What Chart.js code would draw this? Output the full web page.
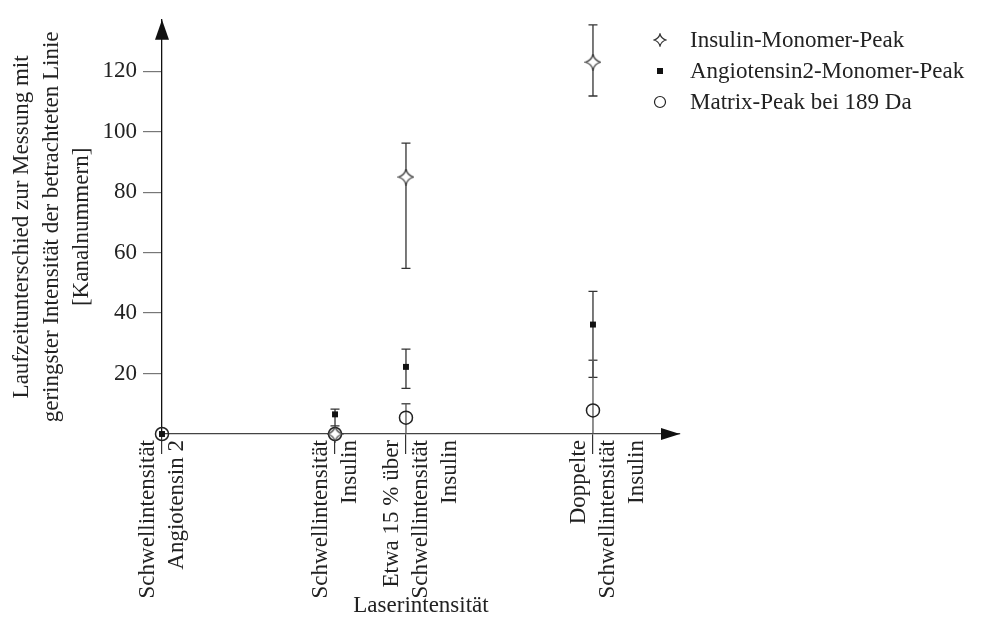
<!DOCTYPE html>
<html>
<head>
<meta charset="utf-8">
<script src="https://cdn.jsdelivr.net/npm/chart.js@4/dist/chart.umd.min.js"></script>
<style>
  html, body { margin: 0; background: #fff; }
</style>
</head>
<body>
<canvas id="myChart" width="994" height="619"></canvas>
<script>
// positions of the four laser intensities along the x axis (0..100)
const xPositions = [0, 33.4, 47.1, 83.2];
const xLabels = [
  ["Schwellintensität", "Angiotensin 2"],
  ["Schwellintensität", "Insulin"],
  ["Etwa 15 % über", "Schwellintensität", "Insulin"],
  ["Doppelte", "Schwellintensität", "Insulin"],
];
const yTicks = [20, 40, 60, 80, 100, 120];

// null = not measured at that intensity
const insulinPeak = [null, 0, 85, 123];
const insulinLow = [null, 0, 54.8, 111.8];
const insulinHigh = [null, 0, 96.2, 135.3];

const angiotensinPeak = [0, 6.5, 22.2, 36.2];
const angiotensinLow = [0, 2.7, 15.1, 18.7];
const angiotensinHigh = [0, 8.2, 28.1, 47.2];

const matrixPeak = [0, 0, 5.4, 7.8];
const matrixLow = [0, 0, 0, 0];
const matrixHigh = [0, 0, 10.0, 24.4];

const seriesNames = [
  "Insulin-Monomer-Peak",
  "Angiotensin2-Monomer-Peak",
  "Matrix-Peak bei 189 Da",
];

const FONT = '"Liberation Serif", "Times New Roman", serif';
const INK = "#222";

function points(peak, low, high) {
  return xPositions
    .map((x, i) => ({ x: x, y: peak[i], lo: low[i], hi: high[i] }))
    .filter((p) => p.y !== null);
}

// four pointed hollow star for the insulin marker
function makeStar(size) {
  const c = document.createElement("canvas");
  c.width = c.height = size;
  const g = c.getContext("2d");
  const m = size / 2, r = size / 2 - 1, k = r * 0.22;
  g.beginPath();
  g.moveTo(m, m - r);
  g.quadraticCurveTo(m + k, m - k, m + r, m);
  g.quadraticCurveTo(m + k, m + k, m, m + r);
  g.quadraticCurveTo(m - k, m + k, m - r, m);
  g.quadraticCurveTo(m - k, m - k, m, m - r);
  g.closePath();
  g.fillStyle = "#fff";
  g.fill();
  g.lineWidth = 1.2;
  g.strokeStyle = "#333";
  g.stroke();
  return c;
}
const starBig = makeStar(17);
const starSmall = makeStar(14);

const errorBars = {
  id: "errorBars",
  beforeDatasetsDraw(chart) {
    const { ctx, scales: { x, y } } = chart;
    ctx.save();
    ctx.lineWidth = 1.3;
    chart.data.datasets.forEach((ds) => {
      ctx.strokeStyle = ds.errorColor;
      ds.data.forEach((p) => {
        if (p.hi === p.lo) return;
        const px = x.getPixelForValue(p.x);
        const top = y.getPixelForValue(p.hi);
        const bot = y.getPixelForValue(p.lo);
        ctx.beginPath();
        ctx.moveTo(px, top);
        ctx.lineTo(px, bot);
        ctx.moveTo(px - 4.5, top);
        ctx.lineTo(px + 4.5, top);
        if (p.lo > 0) {
          ctx.moveTo(px - 4.5, bot);
          ctx.lineTo(px + 4.5, bot);
        }
        ctx.stroke();
      });
    });
    ctx.restore();
  },
};

const axisArrows = {
  id: "axisArrows",
  afterDraw(chart) {
    const { ctx, chartArea: a } = chart;
    ctx.save();
    ctx.fillStyle = "#111";
    ctx.beginPath();
    ctx.moveTo(a.left, a.top);
    ctx.lineTo(a.left - 7, a.top + 20);
    ctx.lineTo(a.left + 7, a.top + 20);
    ctx.closePath();
    ctx.fill();
    ctx.beginPath();
    ctx.moveTo(a.right, a.bottom);
    ctx.lineTo(a.right - 19, a.bottom - 6);
    ctx.lineTo(a.right - 19, a.bottom + 6);
    ctx.closePath();
    ctx.fill();
    ctx.restore();
  },
};

const sideLegend = {
  id: "sideLegend",
  afterDraw(chart) {
    const ctx = chart.ctx;
    ctx.save();
    ctx.font = "23px " + FONT;
    ctx.textBaseline = "middle";
    chart.data.datasets.forEach((ds, i) => {
      const yy = 40 + i * 31;
      const xx = 660;
      if (ds.legendMark === "star") {
        ctx.drawImage(starSmall, xx - 7, yy - 7);
      } else if (ds.legendMark === "square") {
        ctx.fillStyle = "#111";
        ctx.fillRect(xx - 3, yy - 3, 6, 6);
      } else {
        ctx.strokeStyle = "#222";
        ctx.lineWidth = 1.2;
        ctx.beginPath();
        ctx.arc(xx, yy, 5.5, 0, Math.PI * 2);
        ctx.stroke();
      }
      ctx.fillStyle = INK;
      ctx.fillText(ds.label, 690, yy + 1);
    });
    ctx.restore();
  },
};

new Chart(document.getElementById("myChart"), {
  type: "scatter",
  data: {
    datasets: [
      {
        label: seriesNames[0],
        data: points(insulinPeak, insulinLow, insulinHigh),
        pointStyle: starBig,
        legendMark: "star",
        errorColor: "#333",
        clip: false,
      },
      {
        label: seriesNames[1],
        data: points(angiotensinPeak, angiotensinLow, angiotensinHigh),
        pointStyle: "rect",
        pointRadius: 4.2,
        pointBackgroundColor: "#111",
        pointBorderColor: "#111",
        pointBorderWidth: 0,
        legendMark: "square",
        errorColor: "#333",
        clip: false,
      },
      {
        label: seriesNames[2],
        data: points(matrixPeak, matrixLow, matrixHigh),
        pointStyle: "circle",
        pointRadius: 6.5,
        pointBackgroundColor: "rgba(0,0,0,0)",
        pointBorderColor: "#222",
        pointBorderWidth: 1.5,
        legendMark: "circle",
        errorColor: "#555",
        clip: false,
      },
    ],
  },
  options: {
    responsive: false,
    animation: false,
    layout: { padding: { top: 15, right: 314, left: 0, bottom: 0 } },
    plugins: {
      legend: { display: false },
      tooltip: { enabled: false },
    },
    scales: {
      x: {
        type: "linear",
        position: "bottom",
        min: 0,
        max: 100,
        afterBuildTicks: (s) => {
          s.ticks = xPositions.map((v) => ({ value: v }));
        },
        afterFit: (s) => {
          s.height = 185;
        },
        grid: { drawOnChartArea: false, tickLength: 20, color: "#333", lineWidth: 1.2 },
        border: { color: "#444", width: 1.3 },
        ticks: {
          autoSkip: false,
          minRotation: 90,
          maxRotation: 90,
          padding: -14,
          labelOffset: -14,
          color: INK,
          font: { family: FONT, size: 23, lineHeight: 1.25 },
          callback: (v, i) => xLabels[i],
        },
        title: {
          display: true,
          text: "Laserintensität",
          color: INK,
          font: { family: FONT, size: 23, lineHeight: 1.1 },
          padding: { top: 0, bottom: 0 },
        },
      },
      y: {
        min: 0,
        max: 137,
        afterBuildTicks: (s) => {
          s.ticks = yTicks.map((v) => ({ value: v }));
        },
        afterFit: (s) => {
          s.width = 162;
        },
        grid: { drawOnChartArea: false, tickLength: 19, color: "#777", lineWidth: 1.2 },
        border: { color: "#111", width: 1.3 },
        ticks: {
          padding: 6,
          color: INK,
          font: { family: FONT, size: 23 },
        },
        title: {
          display: true,
          text: [
            "Laufzeitunterschied zur Messung mit",
            "geringster Intensität der betrachteten Linie",
            "[Kanalnummern]",
          ],
          color: INK,
          font: { family: FONT, size: 23, lineHeight: 1.3 },
          padding: { top: 7, bottom: 0 },
        },
      },
    },
  },
  plugins: [errorBars, axisArrows, sideLegend],
});
</script>
</body>
</html>
